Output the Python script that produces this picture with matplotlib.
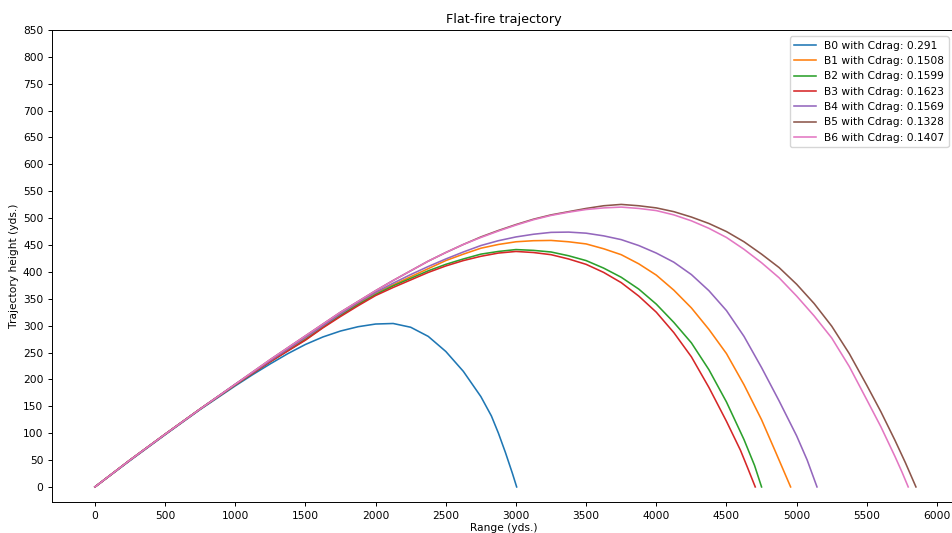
import matplotlib
matplotlib.use('Agg')
import matplotlib.pyplot as plt

# bullet names and drag coefficients
names = ['B0', 'B1', 'B2', 'B3', 'B4', 'B5', 'B6']
cdrag = ['0.291', '0.1508', '0.1599', '0.1623', '0.1569', '0.1328', '0.1407']

# trajectories (range, height in yds.)
b0_x = [0, 250, 500, 750, 1000, 1125, 1250, 1375, 1500, 1625, 1750, 1875, 2000, 2125,
        2250, 2375, 2500, 2625, 2750, 2825, 2875, 2925, 2975, 3005]
b0_y = [0, 49, 97, 144, 188, 209, 229, 248, 265, 279, 290, 298, 303, 304,
        297, 280, 252, 215, 168, 132, 100, 64, 25, 0]

b1_x = [0, 250, 500, 750, 1000, 1250, 1500, 1625, 1750, 1875, 2000, 2125, 2250, 2375, 2500,
        2625, 2750, 2875, 3000, 3125, 3250, 3375, 3500, 3625, 3750, 3875, 4000, 4125,
        4250, 4375, 4500, 4625, 4750, 4850, 4957]
b1_y = [0, 50, 98, 145, 190, 234, 276, 299, 321, 341, 361, 376, 391, 406, 421,
        433, 444, 451, 456, 458, 458.5, 456, 452, 443, 432, 415, 394, 366,
        333, 293, 248, 190, 125, 65, 0]

b2_x = [0, 250, 500, 750, 1000, 1250, 1500, 1625, 1750, 1875, 2000, 2125, 2250, 2375, 2500,
        2625, 2750, 2875, 3000, 3125, 3250, 3375, 3500, 3625, 3750, 3875, 4000, 4125,
        4250, 4375, 4500, 4625, 4700, 4750]
b2_y = [0, 50, 98, 145, 190, 233, 274, 297, 319, 339, 358, 374, 388, 402, 414,
        424, 433, 438, 441.5, 440, 437, 430, 421, 407, 390, 368, 340, 306,
        268, 218, 158, 88, 40, 0]

b3_x = [0, 250, 500, 750, 1000, 1250, 1500, 1625, 1750, 1875, 2000, 2125, 2250, 2375, 2500,
        2625, 2750, 2875, 3000, 3125, 3250, 3375, 3500, 3625, 3750, 3875, 4000, 4125,
        4250, 4375, 4500, 4600, 4650, 4705]
b3_y = [0, 50, 98, 145, 190, 233, 273, 296, 317, 337, 356, 371, 385, 399, 411,
        421, 429, 435, 438, 436, 432, 424, 414, 399, 380, 355, 325, 287,
        242, 185, 122, 68, 36, 0]

b4_x = [0, 250, 500, 750, 1000, 1250, 1500, 1625, 1750, 1875, 2000, 2125, 2250, 2375, 2500,
        2625, 2750, 2875, 3000, 3125, 3250, 3375, 3500, 3625, 3750, 3875, 4000, 4125,
        4250, 4375, 4500, 4625, 4750, 4875, 5000, 5075, 5145]
b4_y = [0, 50, 98, 145, 191, 235, 278, 300, 322, 343, 362, 379, 395, 410, 424,
        437, 449, 458, 465, 470, 473.5, 474, 472, 467, 460, 449, 435, 418,
        395, 365, 328, 280, 222, 160, 95, 50, 0]

b5_x = [0, 250, 500, 750, 1000, 1250, 1500, 1625, 1750, 1875, 2000, 2125, 2250, 2375, 2500,
        2625, 2750, 2875, 3000, 3125, 3250, 3375, 3500, 3625, 3750, 3875, 4000, 4125,
        4250, 4375, 4500, 4625, 4750, 4875, 5000, 5125, 5250, 5375, 5500, 5600, 5700,
        5775, 5850]
b5_y = [0, 50, 98, 145, 191, 237, 281, 303, 325, 345, 365, 384, 402, 420, 436,
        451, 465, 477, 488, 498, 506, 512, 518, 523, 525.5, 523, 519, 512,
        502, 490, 475, 456, 433, 408, 377, 341, 299, 248, 189, 140, 87,
        45, 0]

b6_x = [0, 250, 500, 750, 1000, 1250, 1500, 1625, 1750, 1875, 2000, 2125, 2250, 2375, 2500,
        2625, 2750, 2875, 3000, 3125, 3250, 3375, 3500, 3625, 3750, 3875, 4000, 4125,
        4250, 4375, 4500, 4625, 4750, 4875, 5000, 5125, 5250, 5375, 5500, 5600, 5700,
        5750, 5795]
b6_y = [0, 50, 98, 145, 191, 237, 281, 303, 325, 345, 365, 384, 402, 420, 436,
        451, 464, 476, 487, 497, 505, 511, 516, 519, 520.5, 518, 514, 506,
        495, 481, 464, 442, 417, 389, 355, 318, 277, 224, 162, 112, 57,
        28, 0]

xs = [b0_x, b1_x, b2_x, b3_x, b4_x, b5_x, b6_x]
ys = [b0_y, b1_y, b2_y, b3_y, b4_y, b5_y, b6_y]

fig = plt.figure(figsize=(9.52, 5.33), dpi=100)
ax = fig.add_axes([0.0546, 0.0582, 0.9485, 0.8856])

for i in range(len(names)):
    ax.plot(xs[i], ys[i], color='C%d' % i, linewidth=1.15,
            label='%s with Cdrag: %s' % (names[i], cdrag[i]))

ax.set_xlim(-306, 6128)
ax.set_ylim(-28, 850)
ax.set_xticks(range(0, 6001, 500))
ax.set_yticks(range(0, 851, 50))
ax.tick_params(labelsize=7.7, length=2.7, width=0.7)
for s in ax.spines.values():
    s.set_linewidth(0.7)

ax.set_title('Flat-fire trajectory', fontsize=9.2, pad=5)
ax.set_xlabel('Range (yds.)', fontsize=7.7, labelpad=2)
ax.set_ylabel('Trajectory height (yds.)', fontsize=7.7, labelpad=3)
ax.legend(loc='upper right', fontsize=7.7, handlelength=2.0, borderaxespad=0.6,
          labelspacing=0.5)

plt.savefig('out.png', dpi=100)
